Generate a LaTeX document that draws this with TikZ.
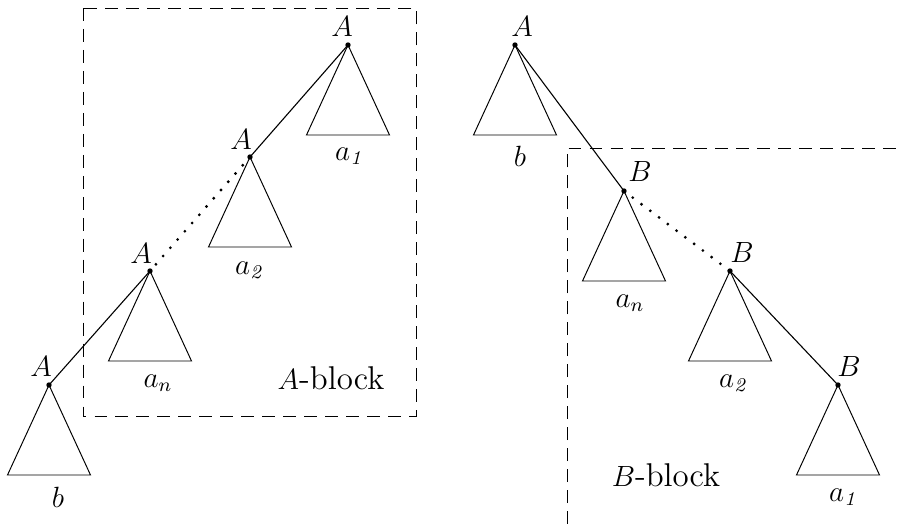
\documentclass[tikz,border=0pt]{standalone}
\begin{document}
\begin{tikzpicture}[x=0.41pt,y=-0.41pt,
  tri/.style={line width=0.4pt},
  edge/.style={line width=0.45pt},
  dotline/.style={line width=1.3pt,line cap=round,dash pattern=on 0pt off 4.5pt},
  blockline/.style={line width=0.35pt,dash pattern=on 5.3pt off 3.3pt},
  lbl/.style={inner sep=0pt,font=\fontsize{12}{14}\selectfont},
  apexdot/.style={fill=black,circle,inner sep=0pt,minimum size=2.2pt}]
\useasboundingbox (0,0) rectangle (898,524);
% apex coordinates
\coordinate (L1) at (348,45);
\coordinate (L2) at (250,157);
\coordinate (L3) at (150,271);
\coordinate (L4) at (49,385);
\coordinate (R1) at (515,45);
\coordinate (R2) at (624,191);
\coordinate (R3) at (730,271);
\coordinate (R4) at (838,385);
% triangles
\foreach \p in {L1,L2,L3,L4,R1,R2,R3,R4}{
  \draw[tri] (\p) -- ++(-41.5,90) -- ++(83,0) -- cycle;
  \node[apexdot] at (\p) {};
}
% connectors
\draw[edge] (L1) -- (L2);
\draw[dotline] (L2) -- (L3);
\draw[edge] (L3) -- (L4);
\draw[edge] (R1) -- (R2);
\draw[dotline] (R2) -- (R3);
\draw[edge] (R3) -- (R4);
% node labels
\node[lbl] (tA1) at (342,26) {$A$};
\node[lbl] (tA2) at (241,139) {$A$};
\node[lbl] (tA3) at (141,253) {$A$};
\node[lbl] (tA4) at (41,366) {$A$};
\node[lbl] (tR1) at (522,26) {$A$};
\node[lbl] (tR2) at (640,171) {$B$};
\node[lbl] (tR3) at (742,252) {$B$};
\node[lbl] (tR4) at (849,366) {$B$};
% subtree labels
\node[lbl] (sL1) at (350,156) {$a_{\mathit{1}}$};
\node[lbl] (sL2) at (250,270) {$a_{\mathit{2}}$};
\node[lbl] (sL3) at (158,383) {$a_n$};
\node[lbl] (sL4) at (58,497) {$b$};
\node[lbl] (sR1) at (520,156) {$b$};
\node[lbl] (sR2) at (630,303) {$a_n$};
\node[lbl] (sR3) at (734,383) {$a_{\mathit{2}}$};
\node[lbl] (sR4) at (844,497) {$a_{\mathit{1}}$};
% blocks
\draw[blockline] (83,8) rectangle (416,416);
\draw[blockline] (567,524) -- (567,148) -- (898,148);
\node[lbl] (Ablk) at (331,378) {$A$\fontsize{13.5}{16}\selectfont-block};
\node[lbl] (Bblk) at (666,475) {$B$\fontsize{13.5}{16}\selectfont-block};
\end{tikzpicture}
\end{document}
